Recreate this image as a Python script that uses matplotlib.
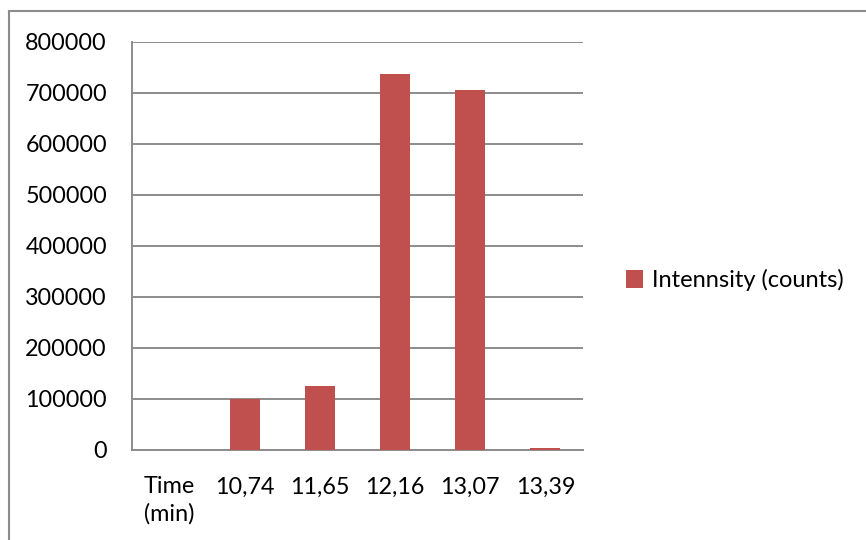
import matplotlib.pyplot as plt
from matplotlib.lines import Line2D
from matplotlib.patches import Patch

plt.rcParams['font.family'] = ['Lato', 'DejaVu Sans']

categories = ['Time\n(min)', '10,74', '11,65', '12,16', '13,07', '13,39']
intensity = [0, 100000, 125000, 736000, 705000, 3000]
yticks = [0, 100000, 200000, 300000, 400000, 500000, 600000, 700000, 800000]
series_name = 'Intennsity (counts)'

bar_color = '#C0504D'
grid_color = '#8C8C8C'

fig = plt.figure(figsize=(8.66, 5.4), dpi=100)
ax = fig.add_axes([0.1524, 0.1667, 0.5208, 0.7561])

x = range(len(categories))
ax.bar(x, intensity, width=0.4, color=bar_color, zorder=3)

ax.set_xlim(-0.5, len(categories) - 0.5)
ax.set_ylim(0, 800000)
ax.set_yticks(yticks)
ax.set_yticklabels([str(v) for v in yticks])
ax.set_xticks(list(x))
ax.set_xticklabels(categories, multialignment='left', va='top', linespacing=1.3)

ax.yaxis.grid(True, color=grid_color, linewidth=1.4, zorder=0)
ax.tick_params(axis='both', length=0, labelsize=16.8, colors='black')
ax.tick_params(axis='y', pad=18)
ax.tick_params(axis='x', pad=19)

for side in ['top', 'right']:
    ax.spines[side].set_visible(False)
for side in ['left', 'bottom']:
    ax.spines[side].set_color(grid_color)
    ax.spines[side].set_linewidth(1.4)

handle = Patch(facecolor=bar_color, edgecolor='none')
fig.legend([handle], [series_name], loc='center left',
           bbox_to_anchor=(0.7115, 0.481), frameon=False, fontsize=17,
           handlelength=0.75, handleheight=0.75, handletextpad=0.35,
           borderaxespad=0)

# chart area outline (only left and top edges fall inside the image)
fig.add_artist(Line2D([0.0104, 0.0104], [0, 0.9796], color=grid_color,
                      linewidth=1.5, transform=fig.transFigure))
fig.add_artist(Line2D([0.0104, 1.0], [0.9796, 0.9796], color=grid_color,
                      linewidth=1.5, transform=fig.transFigure))

fig.savefig('out.png', dpi=100)
